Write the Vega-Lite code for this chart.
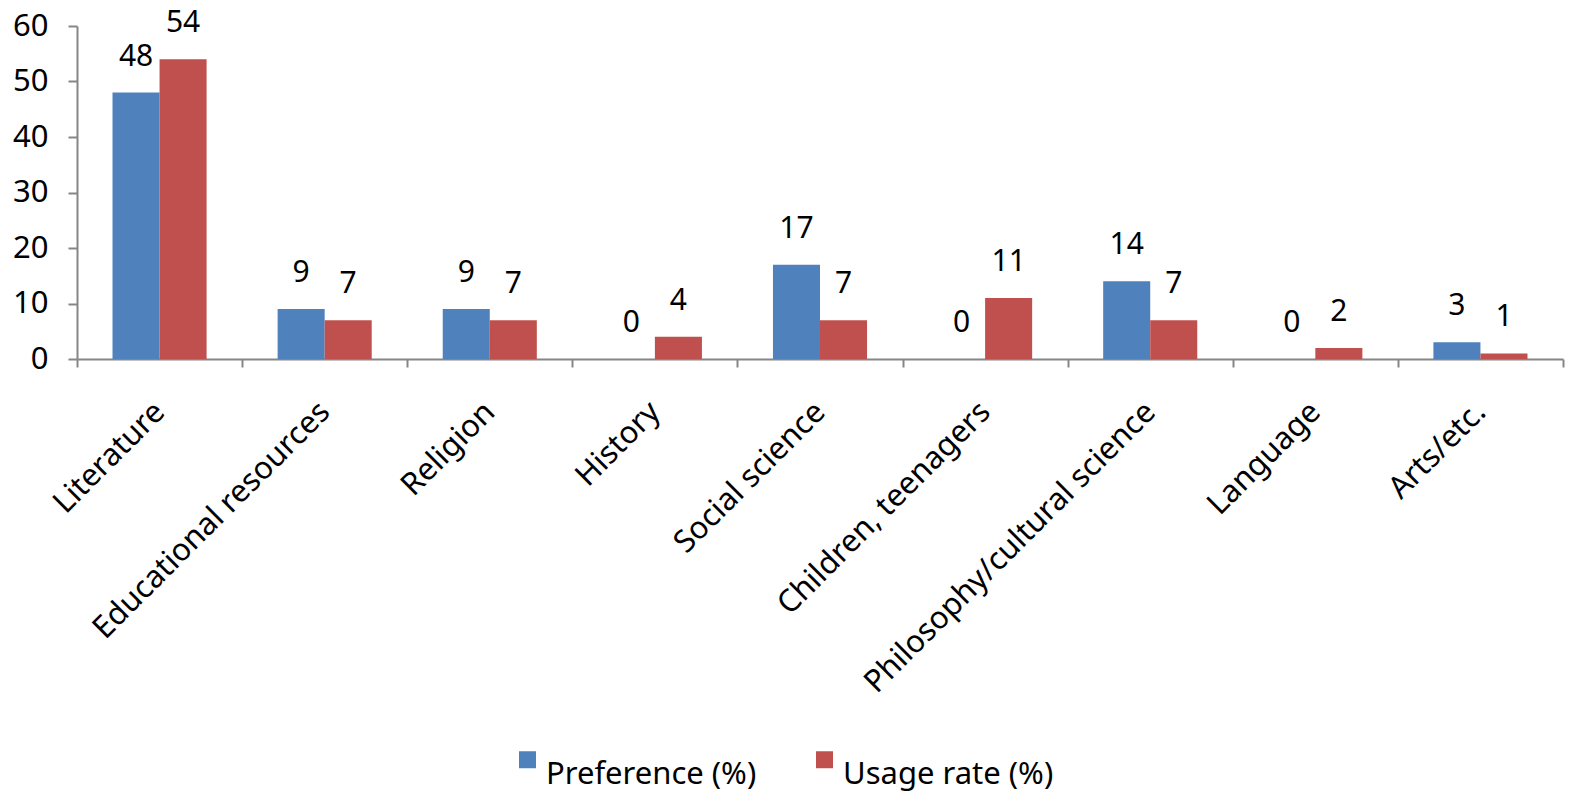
{
  "$schema": "https://vega.github.io/schema/vega-lite/v6.json",
  "autosize": {"type": "none"},
  "width": 1486,
  "height": 333,
  "padding": {"left": 77, "top": 26, "right": 9, "bottom": 436},
  "background": "white",
  "config": {
    "font": "Noto Sans",
    "view": {"stroke": null}
  },
  "data": {
    "values": [
      {"category": "Literature", "series": "Preference (%)", "value": 48},
      {"category": "Literature", "series": "Usage rate (%)", "value": 54},
      {"category": "Educational resources", "series": "Preference (%)", "value": 9},
      {"category": "Educational resources", "series": "Usage rate (%)", "value": 7},
      {"category": "Religion", "series": "Preference (%)", "value": 9},
      {"category": "Religion", "series": "Usage rate (%)", "value": 7},
      {"category": "History", "series": "Preference (%)", "value": 0},
      {"category": "History", "series": "Usage rate (%)", "value": 4},
      {"category": "Social science", "series": "Preference (%)", "value": 17},
      {"category": "Social science", "series": "Usage rate (%)", "value": 7},
      {"category": "Children, teenagers", "series": "Preference (%)", "value": 0},
      {"category": "Children, teenagers", "series": "Usage rate (%)", "value": 11},
      {"category": "Philosophy/cultural science", "series": "Preference (%)", "value": 14},
      {"category": "Philosophy/cultural science", "series": "Usage rate (%)", "value": 7},
      {"category": "Language", "series": "Preference (%)", "value": 0},
      {"category": "Language", "series": "Usage rate (%)", "value": 2},
      {"category": "Arts/etc.", "series": "Preference (%)", "value": 3},
      {"category": "Arts/etc.", "series": "Usage rate (%)", "value": 1}
    ]
  },
  "encoding": {
    "x": {
      "field": "category",
      "type": "nominal",
      "sort": null,
      "scale": {"paddingInner": 0, "paddingOuter": 0},
      "axis": {
        "title": null,
        "labelAngle": -45,
        "labelAlign": "right",
        "labelBaseline": "middle",
        "labelFontSize": 31,
        "labelColor": "black",
        "labelPadding": 40,
        "labelLimit": 600,
        "domainColor": "#868686",
        "domainWidth": 2,
        "tickColor": "#868686",
        "tickWidth": 2,
        "tickSize": 8,
        "tickBand": "extent",
        "ticks": true
      }
    },
    "xOffset": {
      "field": "series",
      "type": "nominal",
      "scale": {"paddingInner": 0, "paddingOuter": 0.755}
    },
    "y": {
      "field": "value",
      "type": "quantitative",
      "scale": {"domain": [0, 60]},
      "axis": {
        "title": null,
        "values": [0, 10, 20, 30, 40, 50, 60],
        "grid": false,
        "labelFontSize": 31,
        "labelColor": "black",
        "labelPadding": 20,
        "domainColor": "#868686",
        "domainWidth": 2,
        "tickColor": "#868686",
        "tickWidth": 2,
        "tickSize": 9
      }
    }
  },
  "layer": [
    {
      "mark": {"type": "bar"},
      "encoding": {
        "color": {
          "field": "series",
          "type": "nominal",
          "scale": {"domain": ["Preference (%)", "Usage rate (%)"], "range": ["#4F81BD", "#C0504D"]},
          "legend": {
            "title": null,
            "orient": "none",
            "legendX": 435,
            "legendY": 718,
            "direction": "horizontal",
            "symbolType": "square",
            "symbolSize": 289,
            "symbolStrokeWidth": 0,
            "symbolOpacity": 1,
            "labelFontSize": 31,
            "labelColor": "black",
            "labelOffset": 3,
            "labelBaseline": "top",
            "columnPadding": 52,
            "labelLimit": 400
          }
        }
      }
    },
    {
      "mark": {"type": "text", "dy": -27, "baseline": "alphabetic", "fontSize": 30, "color": "black"},
      "encoding": {
        "text": {"field": "value", "type": "quantitative"}
      }
    }
  ]
}
